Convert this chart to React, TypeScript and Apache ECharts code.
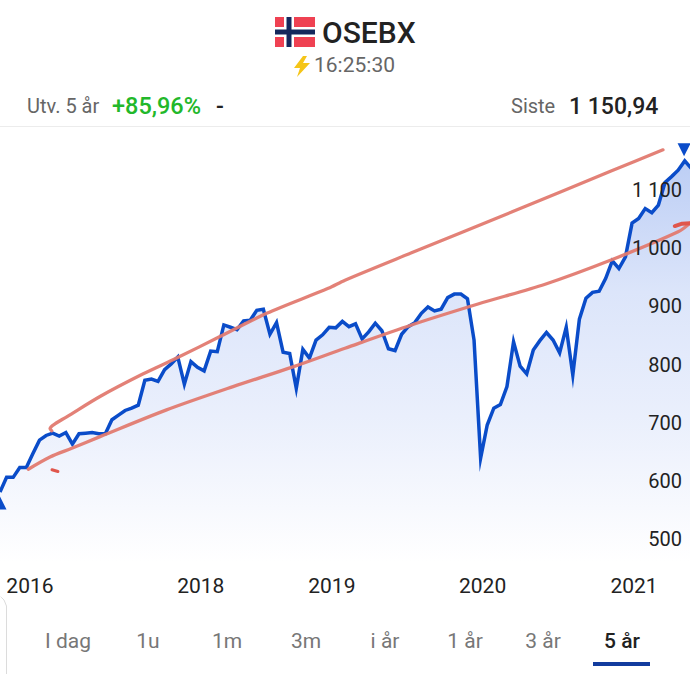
import React, { useEffect, useRef } from "react";
import * as echarts from "echarts";

const indexValues: number[] = [
  581, 606, 606, 623, 623, 647, 670, 678, 682, 677, 683, 663, 681, 682, 683, 681, 681, 705, 713, 721,
  725, 730, 773, 775, 771, 791, 801, 813, 766, 805, 795, 789, 823, 822, 868, 864, 860, 875, 876, 893,
  895, 852, 872, 821, 819, 759, 826, 811, 842, 851, 864, 863, 874, 865, 870, 844, 856, 871, 858, 827,
  824, 852, 865, 872, 888, 899, 892, 895, 915, 921, 921, 913, 842, 639, 696, 725, 731, 762, 839, 797,
  784, 825, 841, 855, 842, 820, 864, 782, 878, 914, 924, 926, 948, 978, 965, 985, 1043, 1051, 1068, 1061,
  1074, 1113, 1123, 1134, 1150, 1137,
];

const yearLabels = ["2016", "2018", "2019", "2020", "2021"];
const yearPositions = [4.55, 30.5, 50.4, 73.3, 96.3];
const yTicks = [500, 600, 700, 800, 900, 1000, 1100];

const upperTrend: [number, number][] = [
  [7.85, 686], [7.6, 690], [8.35, 698], [10.13, 710], [15.19, 745], [21.76, 784], [26.83, 811],
  [33.41, 848], [40.5, 888], [49.86, 931], [52.4, 945], [62.5, 992], [77.7, 1062], [92.9, 1133], [100.7, 1169],
];
const lowerTrend: [number, number][] = [
  [4.3, 620], [7.6, 641], [10.9, 656], [15.2, 676], [25.3, 722], [35.4, 762], [44.5, 796], [52.4, 828],
  [62.5, 868], [72.6, 904], [82.8, 938], [92.9, 980], [103, 1028], [104.8, 1043],
];
const hookStroke: [number, number][] = [[102.5, 1038], [103.6, 1042], [104.8, 1043]];
const dotStroke: [number, number][] = [[7.9, 619], [8.8, 616]];

const lowMarker: [number, number] = [0, 562];
const highMarker: [number, number] = [103.9, 1169];

const tabs = ["I dag", "1u", "1m", "3m", "i år", "1 år", "3 år", "5 år"];
const tabCenters = [68, 148, 227, 306, 385, 465, 543, 622];

const FONT = "Roboto, 'Liberation Sans', sans-serif";

function text(x: number, y: number, t: string, size: number, fill: string, weight: number | string, align: string = "left") {
  return {
    type: "text", x, y, silent: true,
    style: { text: t, fontFamily: FONT, fontSize: size, fill, fontWeight: weight, textAlign: align, textVerticalAlign: "middle" },
  };
}
function rect(x: number, y: number, width: number, height: number, fill: string) {
  return { type: "rect", silent: true, shape: { x, y, width, height }, style: { fill } };
}

const redLine = { color: "rgba(226,122,112,0.95)", width: 3.3 };

export default function App() {
  const ref = useRef<HTMLDivElement>(null);
  useEffect(() => {
    document.body.style.margin = "0";
    const chart = echarts.init(ref.current!, undefined, { renderer: "svg" });
    chart.setOption({
      animation: false,
      backgroundColor: "#ffffff",
      grid: { left: 0, right: 0, top: 131.8, height: 465.4 },
      xAxis: {
        type: "value", min: 0, max: 104.8, z: 10,
        splitLine: { show: false }, axisLine: { show: false }, axisTick: { show: false },
        axisLabel: {
          inside: true, margin: 1, customValues: yearPositions,
          formatter: (v: number) => yearLabels[yearPositions.indexOf(v)] ?? "",
          color: "#222222", fontSize: 21, fontFamily: FONT,
          showMinLabel: true, showMaxLabel: true, hideOverlap: false,
        },
      },
      yAxis: {
        type: "value", min: 400, max: 1200, interval: 100, position: "right", z: 10,
        splitLine: { show: false }, axisLine: { show: false }, axisTick: { show: false },
        axisLabel: {
          inside: true, margin: 8, customValues: yTicks,
          formatter: (v: number) => (v >= 1000 ? `${Math.floor(v / 1000)} ${String(v % 1000).padStart(3, "0")}` : String(v)),
          color: "#222222", fontSize: 20, fontFamily: FONT,
        },
      },
      series: [
        {
          type: "line", data: indexValues.map((v, i) => [i, v]), showSymbol: false, symbol: "none", z: 3,
          lineStyle: { color: "#0a4cc9", width: 3.5, join: "miter", miterLimit: 12 },
          areaStyle: {
            origin: "start",
            color: new echarts.graphic.LinearGradient(0, 0, 0, 1, [
              { offset: 0, color: "rgb(160,185,240)" },
              { offset: 0.3, color: "rgb(205,218,248)" },
              { offset: 0.6, color: "rgb(226,233,251)" },
              { offset: 0.92, color: "rgb(255,255,255)" },
              { offset: 1, color: "rgb(255,255,255)" },
            ]),
          },
          markPoint: {
            silent: true, animation: false,
            data: [
              { coord: lowMarker, symbol: "triangle", symbolSize: [13, 13], itemStyle: { color: "#0a4cc9" }, label: { show: false } },
              { coord: highMarker, symbol: "triangle", symbolRotate: 180, symbolSize: [13, 13], itemStyle: { color: "#0a4cc9" }, label: { show: false } },
            ],
          },
        },
        { type: "line", data: upperTrend, showSymbol: false, symbol: "none", smooth: 0.3, z: 5, lineStyle: { ...redLine, cap: "round" } },
        { type: "line", data: lowerTrend, showSymbol: false, symbol: "none", smooth: 0.3, z: 5, lineStyle: { ...redLine, cap: "round" } },
        { type: "line", data: hookStroke, showSymbol: false, symbol: "none", z: 6, lineStyle: { color: "#e0564c", width: 4, cap: "round" } },
        { type: "line", data: dotStroke, showSymbol: false, symbol: "none", z: 6, lineStyle: { color: "#e0564c", width: 3, cap: "round" } },
      ],
      graphic: [
        rect(275, 17, 40, 30, "#ef4152"),
        rect(284, 17, 10, 30, "#ffffff"),
        rect(275, 27, 40, 10, "#ffffff"),
        rect(286.5, 17, 5, 30, "#14285c"),
        rect(275, 29.5, 40, 5, "#14285c"),
        text(322, 32, "OSEBX", 30, "#222222", 500),
        {
          type: "polygon", silent: true,
          shape: { points: [[303, 56], [294, 68], [300, 68], [297, 77], [310, 63], [303, 63], [307, 56]] },
          style: { fill: "#f5c518" },
        },
        text(314, 65, "16:25:30", 21, "#666666", 400),
        text(27, 106, "Utv. 5 år", 20, "#666666", 400),
        text(112, 106, "+85,96%", 23.5, "#22b82a", 500),
        text(216, 106, "-", 23, "#222222", 500),
        text(511, 106, "Siste", 20, "#666666", 400),
        text(569, 106, "1 150,94", 23, "#222222", 500),
        rect(0, 126, 690, 1, "#ececec"),
        { type: "polyline", silent: true, shape: { points: [[0, 596], [4, 600], [6.5, 606], [6.5, 674]] }, style: { stroke: "#dcdcdc", fill: "none", lineWidth: 1 } },
        ...tabs.map((t, i) => text(tabCenters[i], 641, t, 21, i === 7 ? "#222222" : "#777777", i === 7 ? 500 : 400, "center")),
        rect(593, 662, 57, 4, "#123c9e"),
      ],
    });
    return () => chart.dispose();
  }, []);
  return <div ref={ref} style={{ width: 690, height: 674 }} />;
}
